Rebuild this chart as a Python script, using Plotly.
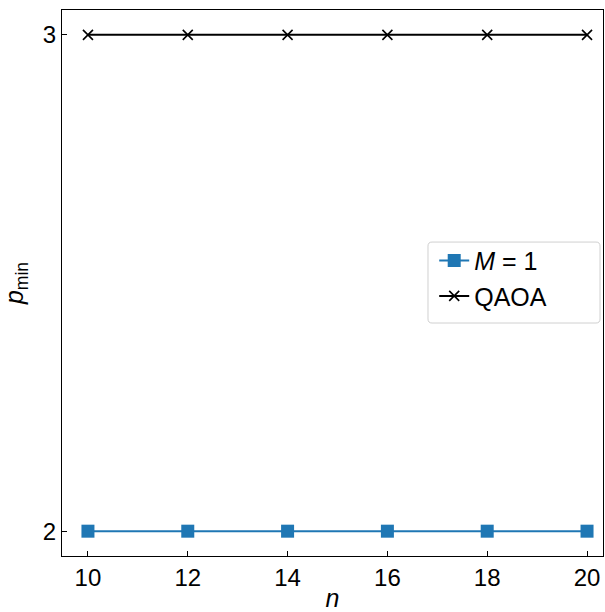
import plotly.graph_objects as go

# Minimum depth p_min versus problem size n
n_values = [10, 12, 14, 16, 18, 20]
p_min_m1 = [2, 2, 2, 2, 2, 2]
p_min_qaoa = [3, 3, 3, 3, 3, 3]
y_ticks = [2, 3]
x_ticks = [10, 12, 14, 16, 18, 20]

fig = go.Figure()
fig.add_trace(go.Scatter(
    x=n_values, y=p_min_m1, mode="lines+markers",
    name="<i>M</i> = 1",
    line=dict(color="#1f77b4", width=2),
    marker=dict(symbol="square", size=13, color="#1f77b4"),
))
fig.add_trace(go.Scatter(
    x=n_values, y=p_min_qaoa, mode="lines+markers",
    name="QAOA",
    line=dict(color="black", width=2),
    marker=dict(symbol="x-thin", size=10, color="black",
                line=dict(color="black", width=1.6)),
))

axis_common = dict(
    showline=True, linecolor="black", linewidth=1.3, mirror=True,
    ticks="inside", ticklen=5, tickwidth=1.2, tickcolor="black",
    showgrid=False, zeroline=False, automargin=False,
    tickfont=dict(family="Liberation Sans, Arial, sans-serif", size=24, color="black"),
)

# Rounded legend frame (paper coordinates)
x0, x1, y0, y1 = 0.6765, 0.9945, 0.4267, 0.575
rx, ry = 0.0075, 0.0074
frame = (f"M{x0+rx},{y1} L{x1-rx},{y1} Q{x1},{y1} {x1},{y1-ry} "
         f"L{x1},{y0+ry} Q{x1},{y0} {x1-rx},{y0} L{x0+rx},{y0} "
         f"Q{x0},{y0} {x0},{y0+ry} L{x0},{y1-ry} Q{x0},{y1} {x0+rx},{y1} Z")

fig.update_layout(
    width=605, height=612,
    margin=dict(l=62, r=2, t=10, b=56),
    plot_bgcolor="white", paper_bgcolor="white",
    font=dict(family="Liberation Sans, Arial, sans-serif", size=24, color="black"),
    xaxis=dict(range=[9.48, 20.32], tickvals=x_ticks,
               title=dict(text="<i>n</i>", standoff=4, font=dict(size=25)),
               **axis_common),
    yaxis=dict(range=[1.95, 3.05], tickvals=y_ticks,
               title=dict(text="<i>p</i><sub>min</sub>", standoff=12, font=dict(size=25)),
               **axis_common),
    shapes=[dict(type="path", path=frame, xref="paper", yref="paper",
                 fillcolor="white", line=dict(color="#d0d0d0", width=1),
                 layer="above")],
    legend=dict(x=0.688, y=0.583, xanchor="left", yanchor="top",
                bgcolor="rgba(0,0,0,0)", borderwidth=0,
                font=dict(size=25), tracegroupgap=4),
    showlegend=True,
)

fig.write_html("out.html")
